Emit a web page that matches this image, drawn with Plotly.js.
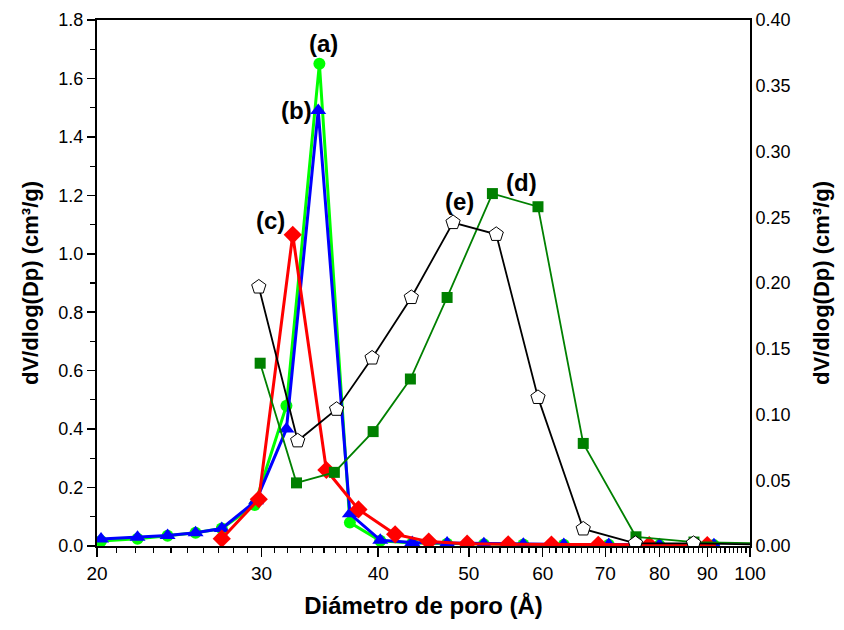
<!DOCTYPE html>
<html>
<head>
<meta charset="utf-8">
<script src="https://cdn.plot.ly/plotly-3.0.1.min.js"></script>
<style>html,body{margin:0;padding:0;background:#fff;}#chart{width:844px;height:630px;}</style>
</head>
<body>
<div id="chart"></div>
<script>
// (a) green circles
const xA = [20.2, 22.1, 23.8, 25.5, 27.2, 29.5, 31.9, 34.6, 37.3, 40.2, 43.5, 47.4, 51.9, 57.2, 63.2, 70.6, 80.0, 91.5];
const yA = [0.017, 0.025, 0.035, 0.045, 0.06, 0.14, 0.48, 1.65, 0.08, 0.018, 0.01, 0.008, 0.006, 0.005, 0.004, 0.004, 0.003, 0.003];
// (b) blue triangles
const xB = [20.2, 22.1, 23.8, 25.5, 27.2, 29.6, 31.9, 34.5, 37.3, 40.2, 43.5, 47.4, 51.9, 57.2, 63.2, 70.6, 80.0, 91.5];
const yB = [0.024, 0.03, 0.036, 0.045, 0.06, 0.155, 0.40, 1.49, 0.11, 0.02, 0.012, 0.01, 0.008, 0.006, 0.005, 0.005, 0.004, 0.004];
// (c) red diamonds
const xC = [27.2, 29.8, 32.4, 35.2, 38.1, 41.7, 45.3, 49.8, 55.1, 61.3, 68.8, 78.0, 90.0];
const yC = [0.025, 0.16, 1.065, 0.26, 0.125, 0.04, 0.015, 0.008, 0.006, 0.005, 0.004, 0.003, 0.003];
// (d) dark green squares (right axis)
const xD = [29.9, 32.7, 35.9, 39.5, 43.3, 47.4, 53.0, 59.3, 66.3, 75.5, 87.1, 105];
const yD = [0.139, 0.048, 0.056, 0.087, 0.127, 0.189, 0.268, 0.258, 0.078, 0.007, 0.003, 0.002];
// (e) black open pentagons (right axis)
const xE = [29.8, 32.8, 36.1, 39.4, 43.4, 48.1, 53.5, 59.3, 66.3, 75.4, 87.0, 105];
const yE = [0.197, 0.080, 0.104, 0.143, 0.189, 0.246, 0.237, 0.113, 0.013, 0.002, 0.002, 0.001];

const xTicks = [20, 30, 40, 50, 60, 70, 80, 90, 100];
const xTickText = ['20', '30', '40', '50', '60', '70', '80', '90', '100'];
const minorX = [];
for (let v = 21; v < 100; v++) { if (v % 10 !== 0) minorX.push(v); }

const tickFont = {family: 'Liberation Sans, Arial, sans-serif', size: 19, color: '#000'};
const yTickFont = {family: 'Liberation Sans, Arial, sans-serif', size: 18, color: '#000'};
const titleFont = {family: 'Liberation Sans, Arial, sans-serif', size: 22, color: '#000', weight: 'bold'};

const traces = [
  {x: xA, y: yA, mode: 'lines+markers', line: {color: '#00ff00', width: 3},
   marker: {symbol: 'circle', size: 12, color: '#00ff00'}, yaxis: 'y'},
  {x: xB, y: yB, mode: 'lines+markers', line: {color: '#0000ff', width: 3},
   marker: {symbol: 'triangle-up', size: 14, color: '#0000ff'}, yaxis: 'y'},
  {x: xC, y: yC, mode: 'lines+markers', line: {color: '#ff0000', width: 3},
   marker: {symbol: 'diamond', size: 14, color: '#ff0000'}, yaxis: 'y'},
  {x: xD, y: yD, mode: 'lines+markers', line: {color: '#008000', width: 1.8},
   marker: {symbol: 'square', size: 11, color: '#008000'}, yaxis: 'y2'},
  {x: xE, y: yE, mode: 'lines+markers', line: {color: '#000000', width: 1.8},
   marker: {symbol: 'pentagon', size: 15, color: '#ffffff', line: {color: '#000', width: 1}}, yaxis: 'y2'}
];

const labFont = {family: 'Liberation Sans, Arial, sans-serif', size: 24, color: '#000', weight: 'bold'};
const layout = {
  width: 844, height: 630,
  margin: {l: 97, r: 94, t: 20, b: 84},
  paper_bgcolor: '#fff', plot_bgcolor: '#fff',
  showlegend: false,
  xaxis: {
    type: 'log', range: [Math.log10(20), 2],
    tickvals: xTicks, ticktext: xTickText, tickfont: tickFont,
    ticks: 'outside', ticklen: 9, tickwidth: 1.5, tickcolor: '#000',
    minor: {tickvals: minorX, ticks: 'outside', ticklen: 5, tickwidth: 1.2, tickcolor: '#000', showgrid: false},
    showline: true, linecolor: '#000', linewidth: 2, mirror: true,
    showgrid: false, zeroline: false,
    title: {text: 'Diámetro de poro (Å)', font: {family: 'Liberation Sans, Arial, sans-serif', size: 24, color: '#000', weight: 'bold'}, standoff: 14}
  },
  yaxis: {
    range: [0, 1.8], dtick: 0.2, tickformat: '.1f', tickfont: yTickFont,
    ticks: 'outside', ticklen: 8, tickwidth: 1.5, tickcolor: '#000',
    minor: {dtick: 0.1, ticks: 'outside', ticklen: 5, tickwidth: 1.2, tickcolor: '#000', showgrid: false},
    showline: true, linecolor: '#000', linewidth: 2,
    showgrid: false, zeroline: false,
    title: {text: 'dV/dlog(Dp) (cm³/g)', font: titleFont, standoff: 14}
  },
  yaxis2: {
    overlaying: 'y', side: 'right',
    range: [0, 0.40], dtick: 0.05, tickformat: '.2f', tickfont: yTickFont,
    ticks: '', showline: true, linecolor: '#000', linewidth: 2,
    showgrid: false, zeroline: false,
    title: {text: 'dV/dlog(Dp) (cm³/g)', font: titleFont, standoff: 24}
  },
  annotations: [
    {x: Math.log10(34.6), y: 1.65, xref: 'x', yref: 'y', text: '(a)', showarrow: false, yshift: 20, xshift: 4, font: labFont},
    {x: Math.log10(34.5), y: 1.49, xref: 'x', yref: 'y', text: '(b)', showarrow: false, yshift: 0, xshift: -22, font: labFont},
    {x: Math.log10(32.4), y: 1.065, xref: 'x', yref: 'y', text: '(c)', showarrow: false, yshift: 14, xshift: -22, font: labFont},
    {x: Math.log10(53.0), y: 0.268, xref: 'x', yref: 'y2', text: '(d)', showarrow: false, yshift: 11, xshift: 29, font: labFont},
    {x: Math.log10(48.1), y: 0.246, xref: 'x', yref: 'y2', text: '(e)', showarrow: false, yshift: 21, xshift: 6, font: labFont}
  ]
};

Plotly.newPlot('chart', traces, layout, {displayModeBar: false, staticPlot: true});
</script>
</body>
</html>
